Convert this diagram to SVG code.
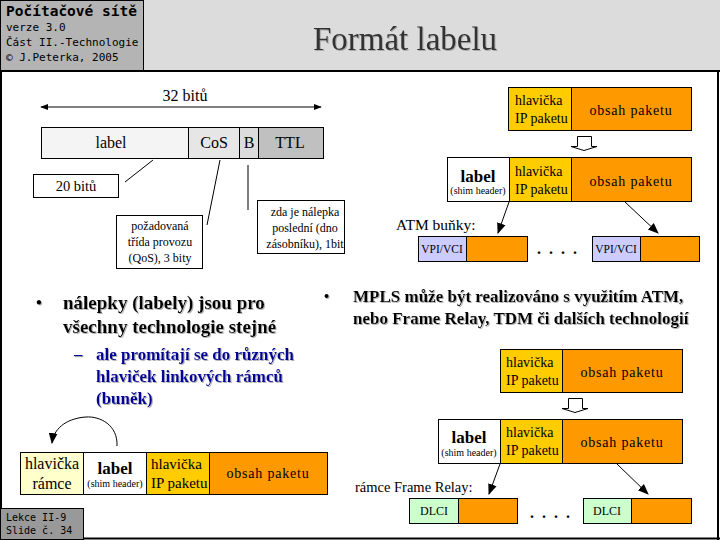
<svg xmlns="http://www.w3.org/2000/svg" width="720" height="540" viewBox="0 0 720 540">
<defs>
<marker id="ah" viewBox="0 0 10 10" refX="9" refY="5" markerWidth="8" markerHeight="8" orient="auto-start-reverse" markerUnits="userSpaceOnUse"><path d="M0,1 L10,5 L0,9 Z" fill="#000"/></marker>
<marker id="ah2" viewBox="0 0 10 10" refX="9" refY="5" markerWidth="11" markerHeight="11" orient="auto" markerUnits="userSpaceOnUse"><path d="M0,1 L10,5 L0,9 Z" fill="#000"/></marker>
<filter id="sh" x="-5%" y="-20%" width="110%" height="140%"><feDropShadow dx="1" dy="1" stdDeviation="0.3" flood-color="#a0a0a0" flood-opacity="0.8"/></filter>
</defs>
<style>
.s{font-family:"Liberation Serif","Times New Roman",serif;fill:#000}
.m{font-family:"DejaVu Sans Mono","Liberation Mono",monospace;fill:#000}
.bx{stroke:#000;stroke-width:1}
.yl{fill:#ffcc00}.or{fill:#ff9900}.wh{fill:#fff}
.ln{stroke:#000;stroke-width:1;fill:none}
.t14{font-size:14px}
.c{text-anchor:middle}
.ob{font-size:14px;letter-spacing:0.8px}
.dots{font-size:16px;font-weight:bold;letter-spacing:8px}
</style>
<rect x="0" y="0" width="720" height="540" fill="#fff"/>
<g id="header">
<rect x="143" y="0" width="577" height="71" fill="#dcdcdc"/>
<rect x="0.5" y="0.5" width="143" height="71" fill="#b4b4b4" stroke="#000"/>
<text class="m" x="6" y="16" font-size="14.5" font-weight="bold">Počítačové sítě</text>
<text class="m" x="6" y="31" font-size="11">verze 3.0</text>
<text class="m" x="6" y="46" font-size="11">Část II.-Technologie</text>
<text class="m" x="6" y="61" font-size="11">© J.Peterka, 2005</text>
<text class="s c" x="405" y="50" font-size="33" style="fill:#333" filter="url(#sh)">Formát labelu</text>
<path d="M0,71 H720" stroke="#000" stroke-width="2"/>
<path d="M1,71 V540 M718,71 V540 M0,538.5 H720" stroke="#000" stroke-width="2" fill="none"/>
</g>
<g id="footer">
<rect x="0.5" y="508.5" width="83" height="31" fill="#999" stroke="#000"/>
<text class="m" x="6" y="521" font-size="10">Lekce II-9</text>
<text class="m" x="6" y="534" font-size="10">Slide č. 34</text>
</g>

<g id="bits-label">
<text class="s c" x="185" y="101" font-size="16">32 bitů</text>
</g>
<g id="label-bar">
<rect class="bx" x="41.5" y="127.5" width="147" height="31" fill="#f4f4f4"/>
<rect class="bx" x="188.5" y="127.5" width="51" height="31" fill="#e6e6e6"/>
<rect class="bx" x="239.5" y="127.5" width="19" height="31" fill="#dcdcdc"/>
<rect class="bx" x="258.5" y="127.5" width="65" height="31" fill="#c0c0c0"/>
<text class="s c" x="111" y="148" font-size="16">label</text>
<text class="s c" x="214" y="148" font-size="16">CoS</text>
<text class="s c" x="249" y="148" font-size="16">B</text>
<text class="s c" x="290" y="148" font-size="16">TTL</text>
</g>
<g id="note-20">
<rect class="bx" x="33.5" y="174.5" width="85" height="23" fill="#fff"/>
<text class="s c" x="76" y="191" font-size="14.5">20 bitů</text>
</g>
<g id="note-qos">
<rect class="bx" x="116.5" y="215.5" width="86" height="53" fill="#fff"/>
<text class="s c" x="160" y="230" font-size="12">požadovaná</text>
<text class="s c" x="160" y="246" font-size="12">třída provozu</text>
<text class="s c" x="160" y="262" font-size="12">(QoS), 3 bity</text>
</g>
<g id="note-b">
<rect class="bx" x="257.5" y="200.5" width="87" height="53" fill="#fff"/>
<text class="s c" x="305" y="216" font-size="12">zda je nálepka</text>
<text class="s c" x="305" y="232" font-size="12">poslední (dno</text>
<text class="s c" x="305" y="248" font-size="12">zásobníku), 1bit</text>
</g>

<g id="atm-top">
<rect class="bx yl" x="508.5" y="87.5" width="63" height="43"/>
<rect class="bx or" x="571.5" y="87.5" width="120" height="43"/>
<text class="s t14" x="515" y="105">hlavička</text>
<text class="s t14" x="515" y="123">IP paketu</text>
<text class="s c ob" x="631" y="115">obsah paketu</text>
<path d="M577.5,136.5 H591.5 V146.5 H597 L584,150.5 L571,146.5 H577.5 Z" fill="#fff" stroke="#000"/>
</g>
<g id="atm-labeled">
<rect class="bx wh" x="447.5" y="157.5" width="62" height="44"/>
<rect class="bx yl" x="509.5" y="157.5" width="62" height="44"/>
<rect class="bx or" x="571.5" y="157.5" width="120" height="44"/>
<text class="s c" x="478" y="182" font-size="17" font-weight="bold">label</text>
<text class="s c" x="478" y="194" font-size="10">(shim header)</text>
<text class="s t14" x="515" y="176">hlavička</text>
<text class="s t14" x="515" y="194">IP paketu</text>
<text class="s c ob" x="631" y="186">obsah paketu</text>
</g>
<text class="s" x="396" y="230" font-size="15.5">ATM buňky:</text>
<g id="atm-cell-1">
<rect class="bx" x="418.5" y="236.5" width="48" height="25" fill="#ccccff"/>
<rect class="bx or" x="466.5" y="236.5" width="61" height="25"/>
<text class="s c" x="442" y="253" font-size="11.5">VPI/VCI</text>
</g>
<text class="s dots" x="537" y="254">....</text>
<g id="atm-cell-2">
<rect class="bx" x="592.5" y="236.5" width="48" height="25" fill="#ccccff"/>
<rect class="bx or" x="640.5" y="236.5" width="59" height="25"/>
<text class="s c" x="616" y="253" font-size="11.5">VPI/VCI</text>
</g>

<g id="bullets" filter="url(#sh)">
<text class="s" x="36" y="308" font-size="17" font-weight="bold">•</text>
<text class="s" x="63" y="309" font-size="19" font-weight="bold">nálepky (labely) jsou pro</text>
<text class="s" x="63" y="333" font-size="19" font-weight="bold">všechny technologie stejné</text>
<text class="s" x="74" y="360" font-size="17" font-weight="bold" style="fill:#000099">–</text>
<text class="s" x="96" y="360" font-size="17" font-weight="bold" style="fill:#000099">ale promítají se do různých</text>
<text class="s" x="96" y="382" font-size="17" font-weight="bold" style="fill:#000099">hlaviček linkových rámců</text>
<text class="s" x="96" y="404" font-size="17" font-weight="bold" style="fill:#000099">(buněk)</text>
<text class="s" x="324" y="301" font-size="15" font-weight="bold">•</text>
<text class="s" x="353" y="302" font-size="17" font-weight="bold">MPLS může být realizováno s využitím ATM,</text>
<text class="s" x="353" y="324" font-size="17" font-weight="bold">nebo Frame Relay, TDM či dalších technologií</text>
</g>

<g id="fr-top">
<rect class="bx yl" x="500.5" y="349.5" width="62" height="43"/>
<rect class="bx or" x="562.5" y="349.5" width="120" height="43"/>
<text class="s t14" x="506" y="367">hlavička</text>
<text class="s t14" x="506" y="385">IP paketu</text>
<text class="s c ob" x="622" y="377">obsah paketu</text>
<path d="M568.5,398.5 H582.5 V408.5 H588 L575,412.5 L562,408.5 H568.5 Z" fill="#fff" stroke="#000"/>
</g>
<g id="fr-labeled">
<rect class="bx wh" x="438.5" y="419.5" width="62" height="44"/>
<rect class="bx yl" x="500.5" y="419.5" width="62" height="44"/>
<rect class="bx or" x="562.5" y="419.5" width="120" height="44"/>
<text class="s c" x="469" y="443" font-size="17" font-weight="bold">label</text>
<text class="s c" x="469" y="456" font-size="10">(shim header)</text>
<text class="s t14" x="506" y="437">hlavička</text>
<text class="s t14" x="506" y="455">IP paketu</text>
<text class="s c ob" x="622" y="447">obsah paketu</text>
</g>
<text class="s" x="355" y="492" font-size="14.5">rámce Frame Relay:</text>
<g id="fr-cell-1">
<rect class="bx" x="409.5" y="498.5" width="49" height="25" fill="#ccffcc"/>
<rect class="bx or" x="458.5" y="498.5" width="59" height="25"/>
<text class="s c" x="434" y="515" font-size="12">DLCI</text>
</g>
<text class="s dots" x="530" y="518">....</text>
<g id="fr-cell-2">
<rect class="bx" x="583.5" y="498.5" width="48" height="25" fill="#ccffcc"/>
<rect class="bx or" x="631.5" y="498.5" width="60" height="25"/>
<text class="s c" x="607" y="515" font-size="12">DLCI</text>
</g>

<g id="frame">
<rect class="bx" x="20.5" y="452.5" width="63" height="42" fill="#ffffcc"/>
<rect class="bx wh" x="83.5" y="452.5" width="63" height="42"/>
<rect class="bx yl" x="146.5" y="452.5" width="63" height="42"/>
<rect class="bx or" x="209.5" y="452.5" width="118" height="42"/>
<text class="s c" x="52" y="469" font-size="16">hlavička</text>
<text class="s c" x="52" y="489" font-size="16">rámce</text>
<text class="s c" x="115" y="474" font-size="17" font-weight="bold">label</text>
<text class="s c" x="115" y="487" font-size="10">(shim header)</text>
<text class="s" x="151" y="469" font-size="15">hlavička</text>
<text class="s" x="151" y="488" font-size="15">IP paketu</text>
<text class="s c ob" x="268" y="478">obsah paketu</text>
</g>

<g id="connectors">
<path class="ln" d="M41,107 H321" marker-start="url(#ah)" marker-end="url(#ah)"/>
<path class="ln" d="M125,182 L153,160"/>
<path class="ln" d="M220,160 L207,225"/>
<path class="ln" d="M248,165 V210"/>
<path class="ln" d="M509,202 L498,233" marker-end="url(#ah2)"/>
<path class="ln" d="M625,202 L658,233" marker-end="url(#ah2)"/>
<path class="ln" d="M500,464 L489,494" marker-end="url(#ah2)"/>
<path class="ln" d="M617,464 L648,494" marker-end="url(#ah2)"/>
<path class="ln" d="M117,446 C118,425 100,416 86,417 C70,418 54,426 52,443" marker-end="url(#ah2)"/>
</g>
</svg>
